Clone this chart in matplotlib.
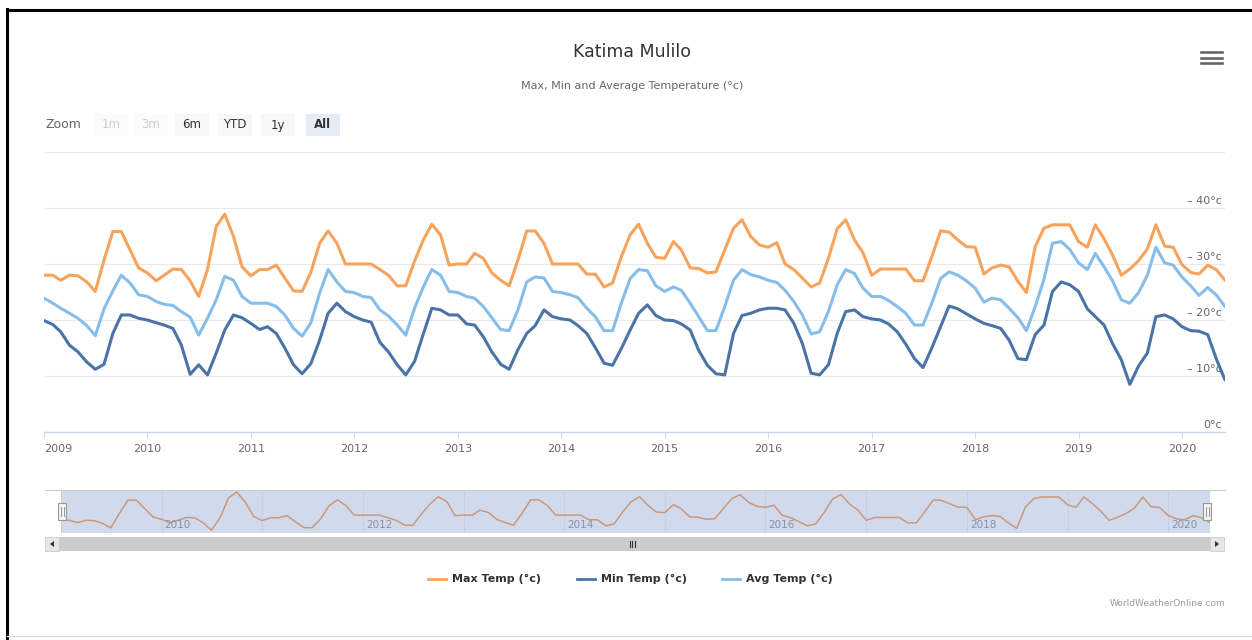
import matplotlib

matplotlib.use("Agg")

import matplotlib.pyplot as plt
import pandas as pd
from matplotlib.patches import Rectangle, Polygon
from matplotlib.transforms import blended_transform_factory, offset_copy

W, H = 1252, 640

# monthly values, Jan 2009 .. Jun 2020 (one row per year)
max_temp = [
    28.0, 28.0, 27.1, 28.0, 27.9, 26.8, 25.1, 30.7, 35.8, 35.8, 32.5, 29.3,
    28.4, 27.0, 28.0, 29.1, 29.0, 27.0, 24.2, 29.0, 36.7, 38.9, 34.9, 29.5,
    27.9, 29.0, 29.0, 29.8, 27.5, 25.2, 25.1, 28.5, 33.7, 35.9, 33.7, 30.0,
    30.0, 30.0, 30.0, 29.0, 28.0, 26.1, 26.1, 30.5, 34.3, 37.1, 35.2, 29.8,
    30.0, 30.0, 31.9, 31.0, 28.4, 27.1, 26.1, 30.7, 35.9, 35.9, 33.7, 30.0,
    30.0, 30.0, 30.0, 28.2, 28.2, 25.9, 26.6, 31.3, 35.2, 37.1, 33.7, 31.2,
    31.0, 34.0, 32.5, 29.3, 29.2, 28.4, 28.6, 32.5, 36.4, 37.9, 34.9, 33.4,
    33.0, 33.8, 30.0, 29.0, 27.5, 25.9, 26.6, 31.0, 36.3, 37.9, 34.3, 32.0,
    28.0, 29.1, 29.1, 29.1, 29.1, 27.0, 27.0, 31.3, 35.9, 35.7, 34.3, 33.1,
    33.0, 28.2, 29.3, 29.8, 29.5, 26.9, 24.9, 33.1, 36.4, 37.0, 37.0, 37.0,
    34.0, 33.0, 37.0, 34.5, 31.6, 28.0, 29.1, 30.6, 32.7, 37.0, 33.2, 33.0,
    29.9, 28.5, 28.2, 29.8, 29.0, 27.1,
]
min_temp = [
    19.9, 19.2, 17.9, 15.5, 14.3, 12.5, 11.2, 12.1, 17.6, 20.9, 20.9, 20.3,
    20.0, 19.5, 19.1, 18.5, 15.5, 10.3, 12.0, 10.2, 14.1, 18.2, 20.9, 20.4,
    19.4, 18.3, 18.8, 17.6, 15.0, 12.0, 10.4, 12.2, 16.4, 21.2, 23.0, 21.5,
    20.6, 20.0, 19.6, 16.0, 14.3, 12.0, 10.2, 12.6, 17.5, 22.1, 21.8, 20.9,
    20.9, 19.3, 19.1, 17.0, 14.3, 12.1, 11.2, 14.7, 17.6, 19.0, 21.8, 20.6,
    20.2, 20.0, 19.0, 17.6, 15.1, 12.3, 11.9, 14.9, 18.2, 21.2, 22.7, 20.8,
    20.0, 19.9, 19.3, 18.2, 14.6, 11.9, 10.4, 10.2, 17.6, 20.8, 21.2, 21.8,
    22.1, 22.1, 21.8, 19.4, 15.8, 10.5, 10.2, 12.0, 17.6, 21.5, 21.8, 20.6,
    20.2, 20.0, 19.3, 17.9, 15.7, 13.1, 11.5, 15.0, 18.8, 22.5, 22.0, 21.1,
    20.2, 19.4, 19.0, 18.5, 16.4, 13.1, 12.9, 17.4, 19.1, 25.1, 26.8, 26.3,
    25.1, 22.0, 20.6, 19.1, 15.8, 12.9, 8.5, 11.8, 14.1, 20.6, 20.9, 20.2,
    18.8, 18.1, 18.0, 17.4, 13.1, 9.3,
]
avg_temp = [
    23.9, 23.0, 22.1, 21.2, 20.3, 19.0, 17.2, 22.0, 25.2, 28.0, 26.6, 24.5,
    24.2, 23.3, 22.8, 22.6, 21.5, 20.5, 17.3, 20.3, 23.6, 27.8, 27.1, 24.2,
    23.0, 23.0, 23.0, 22.4, 20.9, 18.5, 17.1, 19.5, 24.8, 29.0, 26.8, 25.1,
    24.9, 24.2, 24.0, 21.8, 20.7, 19.1, 17.3, 22.1, 25.9, 29.0, 28.0, 25.1,
    24.9, 24.2, 23.9, 22.4, 20.4, 18.3, 18.1, 21.8, 26.8, 27.7, 27.5, 25.1,
    24.9, 24.5, 24.0, 22.1, 20.6, 18.1, 18.1, 23.0, 27.4, 29.0, 28.8, 26.1,
    25.1, 25.9, 25.3, 23.0, 20.6, 18.1, 18.1, 22.4, 27.1, 29.0, 28.1, 27.7,
    27.1, 26.7, 25.3, 23.3, 20.9, 17.5, 17.9, 21.5, 26.3, 29.0, 28.3, 25.7,
    24.2, 24.2, 23.5, 22.4, 21.2, 19.1, 19.1, 23.0, 27.4, 28.6, 28.0, 27.0,
    25.7, 23.2, 23.9, 23.6, 22.1, 20.4, 18.1, 22.4, 27.3, 33.7, 34.0, 32.6,
    30.2, 29.0, 31.9, 29.5, 27.0, 23.6, 23.0, 24.9, 28.0, 33.0, 30.2, 29.8,
    27.7, 26.1, 24.4, 25.8, 24.5, 22.4,
]

series_names = ["Max Temp (°c)", "Min Temp (°c)", "Avg Temp (°c)"]
series_colors = ["#f7a35c", "#4a74a8", "#86bde9"]
y_ticks = [0, 10, 20, 30, 40, 50]
year_ticks = list(range(2009, 2021))
nav_label_years = [2010, 2012, 2014, 2016, 2018, 2020]
zoom_buttons = ["1m", "3m", "6m", "YTD", "1y", "All"]

dates = pd.date_range("2009-01-01", periods=len(max_temp), freq="MS")

plt.rcParams["font.family"] = "DejaVu Sans"


def box(x0, y0, x1, y1):
    return [x0 / W, 1 - y1 / H, (x1 - x0) / W, (y1 - y0) / H]


fig = plt.figure(figsize=(W / 100, H / 100), dpi=100, facecolor="white")

# ---- main plot ----
ax = fig.add_axes(box(44, 152, 1225, 432), zorder=2)
ax.set_facecolor("none")
for vals, color in zip([max_temp, min_temp, avg_temp], series_colors):
    ax.plot(dates, vals, color=color, lw=2.2, solid_joinstyle="round", solid_capstyle="round")
ax.set_xlim(dates[0], dates[-1])
ax.set_ylim(0, 50)
ax.set_yticks(y_ticks)
ax.yaxis.grid(True, color="#e9e9e9", lw=0.8)
ax.set_axisbelow(True)
for side in ["top", "left", "right"]:
    ax.spines[side].set_visible(False)
ax.spines["bottom"].set_color("#ccd6eb")
ax.spines["bottom"].set_linewidth(1.0)
ax.tick_params(axis="y", left=False, labelleft=False)
ticks = [pd.Timestamp(f"{y}-01-01") for y in year_ticks]
ax.set_xticks(ticks)
ax.set_xticklabels([str(y) for y in year_ticks])
ax.tick_params(axis="x", direction="out", length=4, color="#ccd6eb", labelsize=8,
               labelcolor="#666666", pad=5)
ax.get_xticklabels()[0].set_ha("left")

ytrans = offset_copy(blended_transform_factory(ax.transAxes, ax.transData), fig=fig,
                     x=-3, y=2, units="dots")
for v in y_ticks[:-1]:
    label = f"– {v}°c" if v else f"{v}°c"
    ax.text(1.0, v, label, transform=ytrans, ha="right", va="bottom", fontsize=8, color="#666666")

# ---- navigator ----
nav = fig.add_axes(box(61, 490, 1210, 533), zorder=2)
nav.set_facecolor("white")
for t in ticks:
    nav.axvline(t, color="#efefef", lw=0.6, zorder=0)
nav.plot(dates, max_temp, color="#f7a35c", lw=1.1, zorder=2)
nav.set_xlim(dates[0], dates[-1])
nav.set_ylim(min(max_temp) - 1.1, max(max_temp) + 0.8)
nav.set_xticks([])
nav.set_yticks([])
for s in nav.spines.values():
    s.set_visible(False)
ntrans = offset_copy(blended_transform_factory(nav.transData, nav.transAxes), fig=fig,
                     x=3, y=0, units="dots")
for y in nav_label_years:
    nav.text(pd.Timestamp(f"{y}-01-01"), 0.08, str(y), transform=ntrans, ha="left",
             va="bottom", fontsize=7.5, color="#999999", zorder=3)
nav.axvspan(dates[0], dates[-1], color=(102 / 255, 133 / 255, 194 / 255, 0.3), lw=0, zorder=5)

# ---- decorations in pixel space ----
deco = fig.add_axes([0, 0, 1, 1], zorder=3)
deco.set_facecolor("none")
deco.set_xlim(0, W)
deco.set_ylim(H, 0)
deco.axis("off")

# frame
deco.plot([7, 7], [9, H], color="black", lw=2.2)
deco.plot([7, W], [10, 10], color="black", lw=2.2)
deco.plot([7, W], [636, 636], color="#dddddd", lw=1.0)

deco.text(632, 52, "Katima Mulilo", ha="center", va="center", fontsize=12.5, color="#333333")
deco.text(632, 86, "Max, Min and Average Temperature (°c)", ha="center", va="center",
          fontsize=8, color="#666666")

# menu icon
for yy in (52, 57.5, 63):
    deco.plot([1201, 1222], [yy, yy], color="#666666", lw=1.9)

# range selector
deco.text(45, 125, "Zoom", ha="left", va="center", fontsize=9, color="#666666")
btn_x = [111, 151, 192, 235, 278, 323]
for name, cx in zip(zoom_buttons, btn_x):
    disabled = name in ("1m", "3m")
    selected = name == "All"
    fc = "#e6ebf5" if selected else ("#fbfbfb" if disabled else "#f7f7f7")
    deco.add_patch(Rectangle((cx - 17, 114), 34, 22, facecolor=fc, edgecolor="none"))
    deco.text(cx, 125, name, ha="center", va="center", fontsize=8.5,
              color="#cccccc" if disabled else "#333333",
              fontweight="bold" if selected else "normal")

# navigator outline and handles
deco.plot([45, 1225], [489.5, 489.5], color="#cccccc", lw=0.8)
for hx in (62, 1207):
    deco.add_patch(Rectangle((hx - 4, 503), 8, 17, facecolor="#f2f2f2", edgecolor="#999999", lw=0.8))
    for lx in (hx - 1.5, hx + 1.5):
        deco.plot([lx, lx], [507, 516], color="#999999", lw=0.7)

# scrollbar
deco.add_patch(Rectangle((45, 537), 1179, 14, facecolor="#f2f2f2", edgecolor="none"))
deco.add_patch(Rectangle((59, 537), 1151, 14, facecolor="#cccccc", edgecolor="none"))
for bx in (45, 1210):
    deco.add_patch(Rectangle((bx, 537), 14, 14, facecolor="#e6e6e6", edgecolor="#cccccc", lw=0.6))
deco.add_patch(Polygon([[54, 541], [54, 547], [50, 544]], closed=True, facecolor="#333333"))
deco.add_patch(Polygon([[1215, 541], [1215, 547], [1219, 544]], closed=True, facecolor="#333333"))
for gx in (629.5, 632, 634.5):
    deco.plot([gx, gx], [541, 547], color="#333333", lw=0.8)

# legend
legend_x = [428, 577, 722]
for name, color, lx in zip(series_names, series_colors, legend_x):
    deco.plot([lx, lx + 18], [579, 579], color=color, lw=2.0)
    deco.text(lx + 24, 579, name, ha="left", va="center", fontsize=8, fontweight="bold",
              color="#333333")

deco.text(1225, 604, "WorldWeatherOnline.com", ha="right", va="center", fontsize=6.5,
          color="#999999")

fig.savefig("out.png", dpi=100, facecolor="white")
